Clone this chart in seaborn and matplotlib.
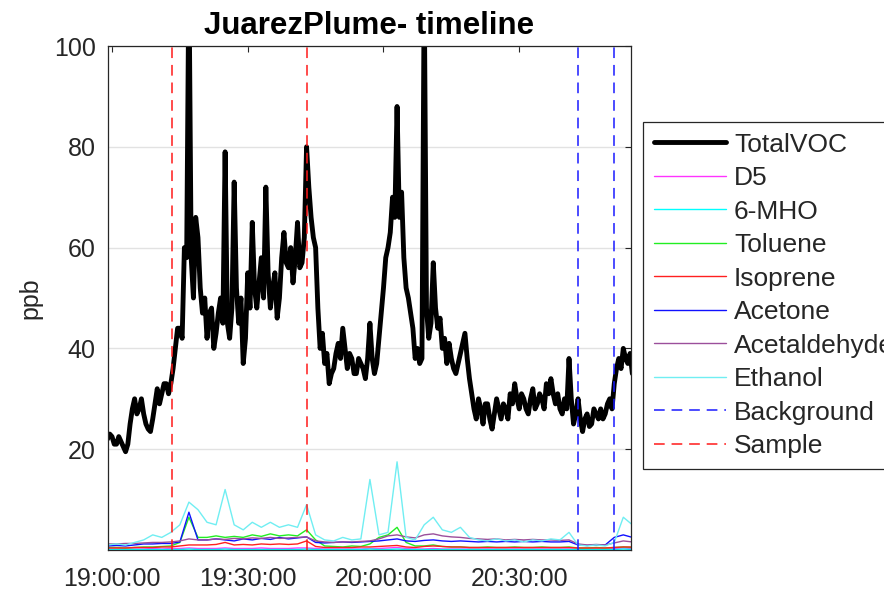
import matplotlib
matplotlib.use("Agg")
import matplotlib.pyplot as plt
import matplotlib.dates as mdates
import pandas as pd
import seaborn as sns

# ---- data -------------------------------------------------------------
day = "2019-08-01"
total_start = f"{day} 18:59:00"   # TotalVOC sampled every 30 s
minor_start = f"{day} 18:59:00"   # individual species every 2 minutes

total_voc = [
    22, 23, 22.5, 21, 21, 22.5, 21.5, 20.5, 19.5, 21,
    25, 28, 30, 27, 28, 30, 27, 25, 24, 23.5,
    26, 29, 32, 29, 31, 33, 33, 31, 33, 36,
    40, 44, 44, 42, 60, 58, 115, 58, 50, 66,
    62, 52, 47, 50, 42, 47, 48, 40, 43, 47,
    50, 45, 79, 45, 42, 48, 73, 52, 45, 50,
    37, 42, 55, 48, 65, 52, 48, 53, 58, 50,
    72, 55, 48, 52, 55, 46, 50, 58, 63, 57,
    56, 60, 53, 58, 65, 56, 57, 62, 80, 72,
    66, 62, 60, 48, 40, 43, 37, 39, 33, 35,
    36, 39, 41, 38, 44, 40, 36, 39, 38, 35,
    35, 38, 37, 36, 34, 38, 45, 38, 35, 37,
    42, 47, 52, 58, 60, 63, 70, 66, 88, 66,
    71, 58, 52, 50, 47, 44, 38, 40, 37, 38,
    112, 48, 42, 45, 57, 48, 44, 46, 40, 42,
    37, 41, 38, 36, 35, 37, 39, 41, 43, 38,
    34, 31, 28, 26, 30, 28, 25, 29, 29, 26,
    24, 27, 30, 28, 26, 29, 28, 26, 31, 29,
    33, 30, 28, 31, 30, 28, 27, 30, 32, 28,
    29, 31, 30, 28, 33, 31, 34, 31, 29, 31,
    28, 27, 30, 28, 38, 30, 25, 27, 30, 26,
    23.5, 26, 27, 24.5, 25, 28, 27, 26, 28, 26,
    27, 29, 30, 28, 33, 36, 38, 36, 40, 38,
    37, 39, 35,
]

d5 = [
    0.2, 0.2, 0.2, 0.2, 0.2, 0.3, 0.2, 0.3, 0.3, 0.4,
    0.3, 0.3, 0.3, 0.4, 0.3, 0.3, 0.3, 0.4, 0.3, 0.3,
    0.3, 0.4, 0.4, 0.3, 0.2, 0.2, 0.2, 0.2, 0.2, 0.3,
    0.3, 0.4, 0.5, 0.3, 0.2, 0.2, 0.3, 0.2, 0.2, 0.2,
    0.2, 0.2, 0.2, 0.2, 0.2, 0.2, 0.2, 0.2, 0.2, 0.2,
    0.2, 0.2, 0.2, 0.2, 0.2, 0.2, 0.3, 0.4, 0.3,
]
mho = [
    0.1, 0.1, 0.1, 0.1, 0.1, 0.1, 0.1, 0.1, 0.1, 0.2,
    0.1, 0.1, 0.1, 0.2, 0.1, 0.1, 0.1, 0.1, 0.1, 0.1,
    0.1, 0.1, 0.2, 0.1, 0.1, 0.1, 0.1, 0.1, 0.1, 0.2,
    0.1, 0.1, 0.2, 0.1, 0.1, 0.1, 0.1, 0.1, 0.1, 0.1,
    0.1, 0.1, 0.1, 0.1, 0.1, 0.1, 0.1, 0.1, 0.1, 0.1,
    0.1, 0.1, 0.1, 0.1, 0.1, 0.1, 0.1, 0.2, 0.1,
]
toluene = [
    0.5, 0.5, 0.4, 0.5, 0.6, 0.6, 0.7, 0.8, 1.5, 6.5,
    2.5, 2.5, 2.8, 2.5, 2.7, 2.5, 3.0, 2.7, 3.2, 2.8,
    3.0, 2.8, 4.0, 2.0, 0.8, 0.7, 0.6, 0.8, 0.7, 1.2,
    2.5, 3.0, 4.5, 1.5, 0.8, 0.8, 1.0, 0.7, 0.6, 0.6,
    0.5, 0.5, 0.6, 0.5, 0.5, 0.6, 0.5, 0.5, 0.6, 0.5,
    0.5, 0.6, 0.4, 0.4, 0.5, 0.4, 0.5, 0.6, 0.5,
]
isoprene = [
    0.4, 0.4, 0.4, 0.5, 0.5, 0.5, 0.6, 0.6, 0.8, 1.0,
    1.0, 1.0, 1.1, 1.5, 1.0, 1.1, 1.0, 1.2, 1.1, 1.2,
    1.1, 1.2, 1.8, 0.7, 0.5, 0.5, 0.5, 0.5, 0.6, 0.6,
    0.7, 0.8, 0.9, 0.6, 0.5, 0.7, 0.8, 0.7, 0.6, 0.6,
    0.5, 0.5, 0.5, 0.5, 0.5, 0.5, 0.5, 0.5, 0.5, 0.5,
    0.5, 0.5, 0.4, 0.4, 0.4, 0.4, 0.5, 0.6, 0.6,
]
acetone = [
    0.8, 0.9, 0.8, 1.0, 1.2, 1.2, 1.3, 1.3, 1.6, 7.5,
    2.0, 2.0, 2.2, 2.0, 1.8, 2.2, 2.0, 2.3, 2.1, 2.5,
    2.2, 2.4, 2.6, 1.5, 1.4, 1.5, 1.6, 1.5, 1.6, 1.7,
    1.8, 2.0, 2.2, 1.8, 1.7, 1.9, 2.0, 1.8, 1.7, 1.8,
    1.7, 1.6, 1.7, 1.6, 1.7, 1.6, 1.7, 1.6, 1.7, 1.6,
    1.6, 1.7, 1.0, 0.9, 1.0, 1.0, 2.5, 3.0, 2.5,
]
acetaldehyde = [
    1.2, 1.2, 1.3, 1.3, 1.4, 1.5, 1.5, 1.6, 1.8, 2.2,
    2.0, 2.0, 2.2, 2.1, 2.3, 2.2, 2.4, 2.3, 2.5, 2.3,
    2.4, 2.5, 2.6, 1.8, 1.6, 1.5, 1.6, 1.6, 1.7, 1.8,
    2.2, 2.8, 3.0, 2.6, 2.4, 3.0, 3.2, 2.8, 2.6, 2.5,
    2.3, 2.2, 2.1, 2.2, 2.0, 2.1, 2.0, 2.1, 2.0, 2.0,
    1.9, 2.0, 1.2, 1.0, 1.1, 1.0, 1.4, 1.8, 1.6,
]
ethanol = [
    1.0, 1.2, 1.0, 1.5, 2.0, 3.0, 2.5, 3.5, 5.0, 9.5,
    8.0, 5.5, 5.0, 12.0, 5.0, 4.0, 5.5, 4.5, 5.5, 4.5,
    5.0, 4.5, 9.0, 3.0, 2.0, 1.8, 2.5, 2.0, 2.2, 14.0,
    3.0, 3.5, 17.5, 2.5, 2.0, 5.0, 6.5, 4.0, 3.5, 4.5,
    2.5, 2.0, 1.8, 2.2, 1.8, 2.0, 1.6, 2.0, 1.8, 2.2,
    2.0, 3.5, 1.0, 0.8, 1.0, 0.8, 1.5, 6.5, 5.0,
]

species_names = ["D5", "6-MHO", "Toluene", "Isoprene", "Acetone",
                 "Acetaldehyde", "Ethanol"]
species_values = [d5, mho, toluene, isoprene, acetone, acetaldehyde, ethanol]
species_colors = ["#ff33ff", "#00ffff", "#22ee22", "#ff2020", "#1010ff",
                  "#9b4f9b", "#70eef2"]

sample_times = [f"{day} 19:13:15", f"{day} 19:43:05"]
background_times = [f"{day} 20:43:05", f"{day} 20:50:50"]

tick_times = [f"{day} 19:00:00", f"{day} 19:30:00",
              f"{day} 20:00:00", f"{day} 20:30:00"]
x_range = [f"{day} 18:59:07", f"{day} 20:54:42"]
y_ticks = [20, 40, 60, 80, 100]

# ---- tables -----------------------------------------------------------
total_df = pd.DataFrame({
    "time": pd.date_range(total_start, periods=len(total_voc), freq="30s"),
    "ppb": total_voc,
})
minor_frames = []
for name, vals in zip(species_names, species_values):
    minor_frames.append(pd.DataFrame({
        "time": pd.date_range(minor_start, periods=len(vals), freq="2min"),
        "ppb": vals,
        "species": name,
    }))
minor_df = pd.concat(minor_frames, ignore_index=True)

# ---- figure -----------------------------------------------------------
sns.set_style("white")
plt.rcParams["font.family"] = ["Liberation Sans", "DejaVu Sans"]
ink = "#262626"

fig = plt.figure(figsize=(8.84, 5.96), dpi=100)
ax = fig.add_axes([108 / 884, 46 / 596, 523 / 884, 504 / 596])

sns.lineplot(data=total_df, x="time", y="ppb", color="black", linewidth=3.5,
             label="TotalVOC", ax=ax, legend=False)
for name, color in zip(species_names, species_colors):
    sub = minor_df[minor_df["species"] == name]
    sns.lineplot(data=sub, x="time", y="ppb", color=color, linewidth=1.0,
                 label=name, ax=ax, legend=False)

dash = (7, 4.5)
for i, t in enumerate(background_times):
    ax.axvline(pd.Timestamp(t), color="#1a1aff", linestyle="--", dashes=dash,
               linewidth=1.1, label="Background" if i == 0 else "_nolegend_")
for i, t in enumerate(sample_times):
    ax.axvline(pd.Timestamp(t), color="#ff1a1a", linestyle="--", dashes=dash,
               linewidth=1.1, label="Sample" if i == 0 else "_nolegend_")

ax.set_xlim(pd.Timestamp(x_range[0]), pd.Timestamp(x_range[1]))
ax.set_ylim(0, 100)
ax.set_xticks([pd.Timestamp(t) for t in tick_times])
ax.xaxis.set_major_formatter(mdates.DateFormatter("%H:%M:%S"))
ax.set_yticks(y_ticks)

ax.yaxis.grid(True, color="#e2e2e2", linewidth=1)
ax.xaxis.grid(False)
ax.set_axisbelow(True)
ax.tick_params(direction="in", length=4, width=0.8, top=True, right=True,
               labelsize=18, colors=ink, labelcolor=ink)
ax.tick_params(axis="x", pad=12)
ax.tick_params(axis="y", pad=9)
for sp in ax.spines.values():
    sp.set_color(ink)
    sp.set_linewidth(0.9)

ax.set_xlabel("")
ax.set_ylabel("ppb", fontsize=18, color=ink, labelpad=8)
ax.set_title("JuarezPlume- timeline", fontsize=22.5, fontweight="bold",
             color="black", pad=9)

handles, labels = ax.get_legend_handles_labels()
leg = fig.legend(handles, labels, loc="upper left",
                 bbox_to_anchor=(643 / 884, (596 - 122) / 596),
                 borderaxespad=0, fontsize=19, frameon=True, fancybox=False,
                 framealpha=1, edgecolor=ink, labelspacing=0.36,
                 handlelength=2.75, handletextpad=0.3, borderpad=0.4)
leg.get_frame().set_linewidth(0.9)
for txt in leg.get_texts():
    txt.set_color(ink)

fig.savefig("out.png", dpi=100)
